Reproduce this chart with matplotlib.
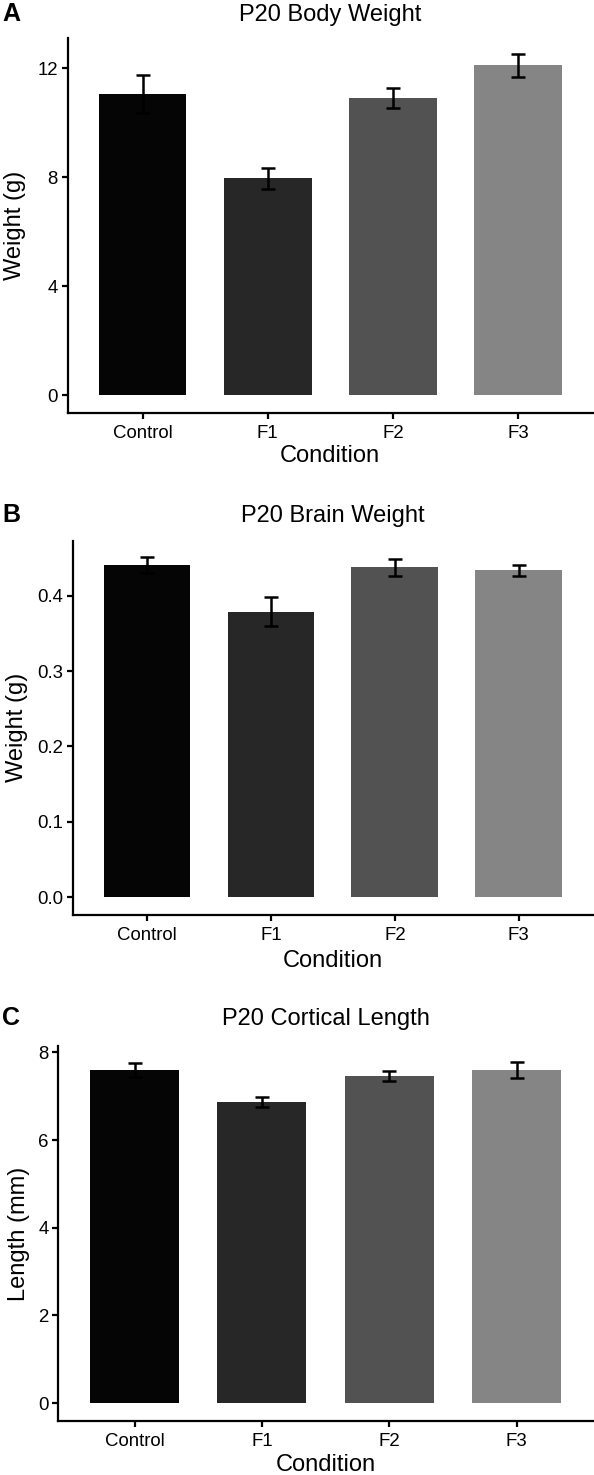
import matplotlib
matplotlib.use("Agg")
import matplotlib.pyplot as plt
import matplotlib.transforms as mtransforms

plt.rcParams['font.family'] = ['Liberation Sans', 'DejaVu Sans']

# ---- data ----
conditions = ["Control", "F1", "F2", "F3"]
bar_colors = ["#050505", "#272727", "#525252", "#858585"]

body_weight = [11.06, 7.965, 10.90, 12.10]
body_weight_err = [0.70, 0.385, 0.36, 0.43]

brain_weight = [0.4407, 0.3789, 0.4374, 0.4334]
brain_weight_err = [0.0110, 0.0190, 0.0109, 0.0069]

cortical_length = [7.60, 6.87, 7.46, 7.60]
cortical_length_err = [0.153, 0.12, 0.11, 0.18]

body_ticks = [0, 4, 8, 12]
brain_ticks = [0.0, 0.1, 0.2, 0.3, 0.4]
brain_ticklabels = ["0.0", "0.1", "0.2", "0.3", "0.4"]
length_ticks = [0, 2, 4, 6, 8]

W, H = 594, 1475
fig = plt.figure(figsize=(W / 100, H / 100), dpi=100)

panels = [
    dict(letter="A", title="P20 Body Weight", ylabel="Weight (g)",
         vals=body_weight, errs=body_weight_err, ticks=body_ticks,
         ticklabels=[str(t) for t in body_ticks], ylim=(-0.64, 13.09),
         box=(67.6, 593, 38.3, 412.7), base=20.7, ylab_x=15.0,
         xlab_y=456.5),
    dict(letter="B", title="P20 Brain Weight", ylabel="Weight (g)",
         vals=brain_weight, errs=brain_weight_err, ticks=brain_ticks,
         ticklabels=brain_ticklabels, ylim=(-0.0235, 0.4729),
         box=(72.8, 593, 540.7, 915.0), base=521.7, ylab_x=17.0,
         xlab_y=961),
    dict(letter="C", title="P20 Cortical Length", ylabel="Length (mm)",
         vals=cortical_length, errs=cortical_length_err, ticks=length_ticks,
         ticklabels=[str(t) for t in length_ticks], ylim=(-0.41, 8.145),
         box=(58.1, 593, 1046.0, 1421.0), base=1025.0, ylab_x=19.5,
         xlab_y=1465),
]

x = list(range(1, len(conditions) + 1))
lw_axis = 1.6

for p in panels:
    l, r, t, b = p["box"]
    ax = fig.add_axes([l / W, 1 - b / H, (r - l) / W, (b - t) / H])
    ax.bar(x, p["vals"], width=0.7, color=bar_colors, edgecolor="none", zorder=2)
    ax.errorbar(x, p["vals"], yerr=p["errs"], fmt="none", ecolor="black",
                elinewidth=1.8, capsize=4.9, capthick=1.8, zorder=3)
    ax.set_xlim(0.4, 4.6)
    ax.set_ylim(*p["ylim"])
    ax.set_xticks(x)
    ax.set_xticklabels(conditions)
    ax.set_yticks(p["ticks"])
    ax.set_yticklabels(p["ticklabels"])
    for s in ["top", "right"]:
        ax.spines[s].set_visible(False)
    for s in ["left", "bottom"]:
        ax.spines[s].set_linewidth(lw_axis)
        ax.spines[s].set_capstyle("projecting")
    ax.tick_params(axis="both", length=4.5, width=lw_axis, labelsize=13.4,
                   colors="black", pad=2.5)
    ax.tick_params(axis="x", pad=4.5)

    # title
    pad_pt = (t - p["base"]) * 72 / 100
    ax.set_title(p["title"], fontsize=17, pad=pad_pt)

    # panel letter
    fig.text(2 / W, 1 - p["base"] / H, p["letter"], fontsize=18,
             fontweight="bold", ha="left", va="baseline")

    # axis labels
    ax.set_xlabel("Condition", fontsize=17, va="center")
    ax.xaxis.set_label_coords(0.5, 1 - p["xlab_y"] / H,
                              transform=mtransforms.blended_transform_factory(
                                  ax.transAxes, fig.transFigure))
    ax.set_ylabel(p["ylabel"], fontsize=17, va="center")
    ax.yaxis.set_label_coords(p["ylab_x"] / W, 0.5,
                              transform=mtransforms.blended_transform_factory(
                                  fig.transFigure, ax.transAxes))

fig.savefig("out.png", dpi=100)
